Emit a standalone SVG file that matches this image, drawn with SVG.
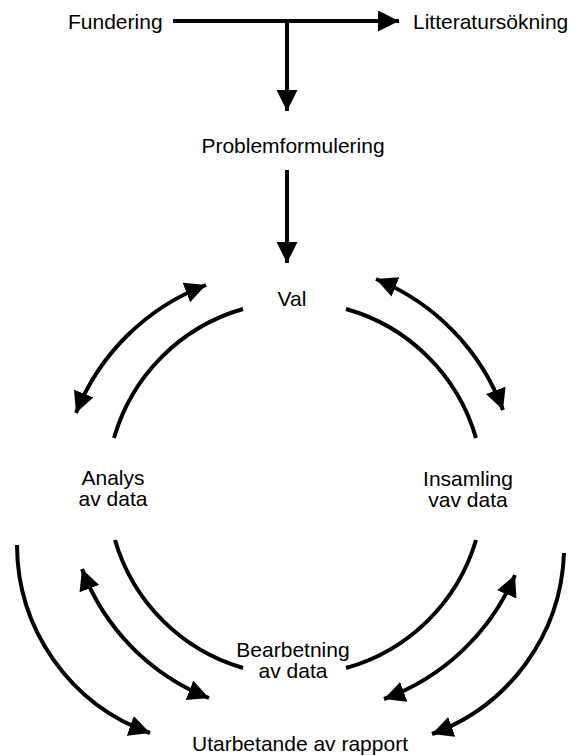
<svg xmlns="http://www.w3.org/2000/svg" width="570" height="756" viewBox="0 0 570 756">
<style>
text{font-family:"Liberation Sans",Arial,sans-serif;font-size:21px;fill:#000}
.c{text-anchor:middle}
.ln{fill:none;stroke:#000;stroke-width:4}
</style>
<defs>
<marker id="ah" markerUnits="userSpaceOnUse" markerWidth="21" markerHeight="21" viewBox="0 0 20 20" refX="20" refY="10" orient="auto-start-reverse">
<path d="M0,0 L20,10 L0,20 z" fill="#000"/>
</marker>
</defs>
<rect width="570" height="756" fill="#fff"/>
<g id="connectors">
<path class="ln" d="M173,21 H399" marker-end="url(#ah)"/>
<path class="ln" d="M287,21 V111" marker-end="url(#ah)"/>
<path class="ln" d="M287,170 V263" marker-end="url(#ah)"/>
<path class="ln" d="M243,309 A188,188 0 0 0 114,438"/>
<path class="ln" d="M346,309 A188,188 0 0 1 476,438"/>
<path class="ln" d="M115,540 A188,188 0 0 0 243,668"/>
<path class="ln" d="M476,540 A188,188 0 0 1 346,668"/>
<path class="ln" d="M206,285 A226,226 0 0 0 76,413" marker-start="url(#ah)" marker-end="url(#ah)"/>
<path class="ln" d="M376,279 A226,226 0 0 1 503,410" marker-start="url(#ah)" marker-end="url(#ah)"/>
<path class="ln" d="M82,569 A222,222 0 0 0 209,698" marker-start="url(#ah)" marker-end="url(#ah)"/>
<path class="ln" d="M515,575 A226,226 0 0 1 384,699" marker-start="url(#ah)" marker-end="url(#ah)"/>
<path class="ln" d="M17,545 A200,200 0 0 0 150,733" marker-end="url(#ah)"/>
<path class="ln" d="M564,553 A200,200 0 0 1 432,734" marker-end="url(#ah)"/>
</g>
<g id="fundering"><text x="68" y="29">Fundering</text></g>
<g id="litteratursokning"><text x="413" y="29">Litteratursökning</text></g>
<g id="problemformulering"><text class="c" x="293" y="153">Problemformulering</text></g>
<g id="val"><text class="c" x="292" y="306">Val</text></g>
<g id="analys"><text class="c" x="113" y="485">Analys</text><text class="c" x="113" y="506">av data</text></g>
<g id="insamling"><text class="c" x="468" y="486">Insamling</text><text class="c" x="468" y="507">vav data</text></g>
<g id="bearbetning"><text class="c" x="293" y="657">Bearbetning</text><text class="c" x="293" y="678">av data</text></g>
<g id="rapport"><text class="c" x="300" y="751">Utarbetande av rapport</text></g>
</svg>
